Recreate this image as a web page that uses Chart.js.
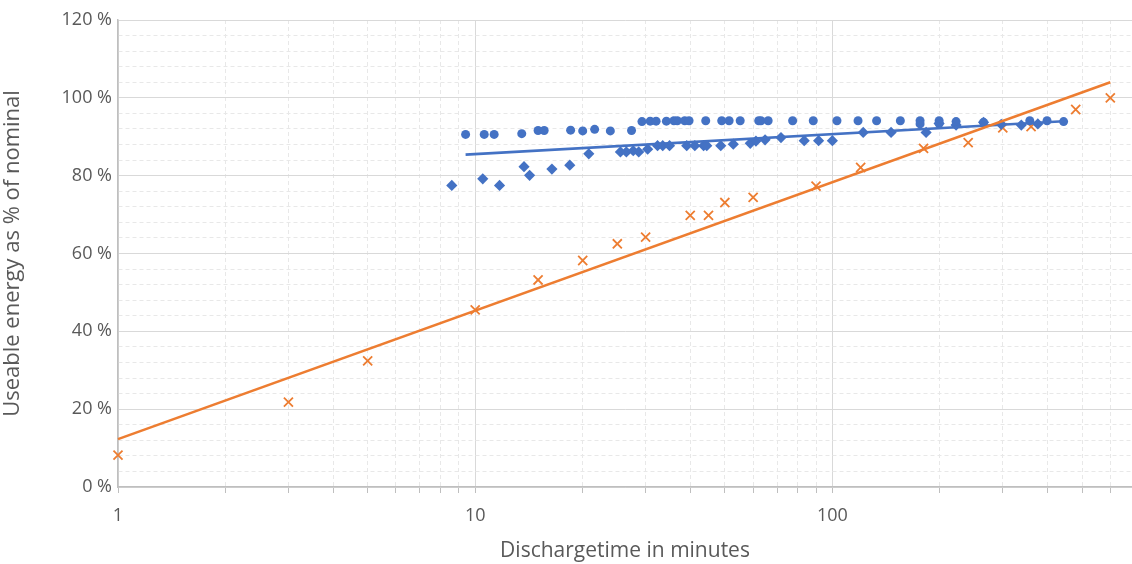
<!DOCTYPE html>
<html>
<head>
<meta charset="utf-8">
<script src="https://cdn.jsdelivr.net/npm/chart.js@4"></script>
<style>
  html, body { margin: 0; padding: 0; background: #fff; overflow: hidden; }
  #wrap { width: 1132px; height: 564px; position: relative; }
</style>
</head>
<body>
<div id="wrap"><canvas id="energyChart"></canvas></div>
<script>
// Discharge time (minutes) vs useable energy (% of nominal)
const circleTimes = [9.4, 10.6, 11.3, 13.5, 15.0, 15.6, 18.5, 20.0, 21.6, 23.9, 27.4, 29.3, 30.9, 32.1, 34.3, 36.0, 36.8, 38.6, 39.7,
  44.2, 49.0, 51.4, 55.2, 62.2, 63.1, 66.1, 77.4, 88.4, 103, 118, 133, 155, 176, 176, 199, 199, 222, 265, 357, 399, 444];
const circleEnergy = [90.6, 90.6, 90.6, 90.8, 91.6, 91.6, 91.7, 91.5, 91.9, 91.5, 91.6, 93.9, 94.0, 94.0, 94.0, 94.1, 94.1, 94.1, 94.1,
  94.1, 94.1, 94.1, 94.1, 94.1, 94.1, 94.1, 94.1, 94.1, 94.1, 94.1, 94.1, 94.1, 94.1, 93.3, 94.1, 93.4, 93.9, 93.7, 94.1, 94.1, 93.9];

const diamondTimes = [8.6, 10.5, 11.7, 13.7, 14.2, 16.4, 18.4, 20.8, 25.5, 26.5, 27.7, 28.7, 30.4, 32.4, 33.5, 35.0, 39.1, 41.2, 43.6,
  44.5, 48.7, 52.8, 58.9, 61.1, 64.8, 71.8, 83.4, 91.5, 100, 122, 146, 183, 199, 222, 265, 297, 338, 376];
const diamondEnergy = [77.5, 79.2, 77.5, 82.3, 80.1, 81.7, 82.7, 85.6, 86.1, 86.1, 86.4, 86.1, 86.8, 87.7, 87.7, 87.7, 87.7, 87.7, 87.7,
  87.7, 87.7, 88.1, 88.3, 88.9, 89.2, 89.8, 89.0, 89.0, 89.0, 91.1, 91.1, 91.1, 93.4, 93.0, 93.7, 93.2, 93.0, 93.3];

const crossTimes = [1, 3, 5, 10, 15, 20, 25, 30, 40, 45, 50, 60, 90, 120, 180, 240, 300, 360, 480, 600];
const crossEnergy = [8.2, 21.8, 32.4, 45.5, 53.2, 58.2, 62.5, 64.2, 69.8, 69.8, 73.1, 74.4, 77.3, 82.1, 87.0, 88.5, 92.3, 92.6, 97.0, 100];

// logarithmic trendlines are straight on a log axis, so two ends are enough
const blueTrendTimes = [9.4, 444];
const blueTrendEnergy = [85.4, 94.0];
const orangeTrendTimes = [1, 600];
const orangeTrendEnergy = [12.3, 104.0];

const xTickValues = [1, 2, 3, 4, 5, 6, 7, 8, 9, 10, 20, 30, 40, 50, 60, 70, 80, 90, 100, 200, 300, 400, 500, 600];
const xLabelValues = [1, 10, 100];

const BLUE = '#4472C4';
const ORANGE = '#ED7D31';
const TEXT = '#595959';

function toPoints(xs, ys) {
  return xs.map((x, i) => ({ x: x, y: ys[i] }));
}

const isMajorX = v => xLabelValues.includes(v);
const isMajorY = v => v % 20 === 0;

const ctx = document.getElementById('energyChart').getContext('2d');

new Chart(ctx, {
  type: 'scatter',
  data: {
    datasets: [
      {
        label: 'trend orange',
        data: toPoints(orangeTrendTimes, orangeTrendEnergy),
        showLine: true,
        borderColor: ORANGE,
        borderWidth: 2.6,
        pointRadius: 0,
        order: 0
      },
      {
        label: 'trend blue',
        data: toPoints(blueTrendTimes, blueTrendEnergy),
        showLine: true,
        borderColor: BLUE,
        borderWidth: 2.6,
        pointRadius: 0,
        order: 1
      },
      {
        label: 'circles',
        data: toPoints(circleTimes, circleEnergy),
        pointStyle: 'circle',
        pointRadius: 4.5,
        backgroundColor: BLUE,
        borderColor: BLUE,
        borderWidth: 0,
        order: 2
      },
      {
        label: 'diamonds',
        data: toPoints(diamondTimes, diamondEnergy),
        pointStyle: 'rectRot',
        pointRadius: 5.6,
        backgroundColor: BLUE,
        borderColor: BLUE,
        borderWidth: 0,
        order: 3
      },
      {
        label: 'crosses',
        data: toPoints(crossTimes, crossEnergy),
        pointStyle: 'crossRot',
        pointRadius: 6.4,
        borderColor: ORANGE,
        backgroundColor: ORANGE,
        borderWidth: 1.8,
        order: 4
      }
    ]
  },
  options: {
    responsive: true,
    maintainAspectRatio: false,
    animation: false,
    clip: false,
    // plot runs off the right edge, so no extra room for markers
    layout: { autoPadding: false, padding: { top: 20, right: 0, bottom: 0, left: 0 } },
    plugins: {
      legend: { display: false },
      tooltip: { enabled: false }
    },
    scales: {
      x: {
        type: 'logarithmic',
        min: 1,
        max: 690,
        afterBuildTicks: axis => {
          axis.ticks = xTickValues.map(v => ({ value: v }));
        },
        afterFit: scale => { scale.height = 77; },
        ticks: {
          autoSkip: false,
          maxRotation: 0,
          padding: 12,
          color: TEXT,
          font: { family: 'Open Sans', size: 18 },
          callback: v => isMajorX(v) ? String(v) : ''
        },
        grid: {
          color: c => (c.tick && isMajorX(c.tick.value)) ? '#d9d9d9' : '#e8e8e8',
          lineWidth: 1,
          tickColor: '#bfbfbf',
          tickLength: 6
        },
        border: {
          color: '#bfbfbf',
          width: 1.5,
          dash: c => (c.tick && !isMajorX(c.tick.value)) ? [4, 3] : []
        },
        title: {
          display: true,
          text: 'Dischargetime in minutes',
          color: TEXT,
          font: { family: 'Open Sans', size: 21 },
          padding: { top: 0, bottom: 0 }
        }
      },
      y: {
        min: 0,
        max: 120,
        afterFit: scale => { scale.width = 118; },
        ticks: {
          stepSize: 4,
          autoSkip: false,
          padding: 6,
          color: TEXT,
          font: { family: 'Open Sans', size: 18 },
          callback: v => isMajorY(v) ? v + ' %' : ''
        },
        grid: {
          color: c => (c.tick && isMajorY(c.tick.value)) ? '#d9d9d9' : '#e8e8e8',
          lineWidth: 1,
          drawTicks: false
        },
        border: {
          color: '#bfbfbf',
          width: 1.5,
          dash: c => (c.tick && !isMajorY(c.tick.value)) ? [4, 3] : []
        },
        title: {
          display: true,
          text: 'Useable energy as % of nominal',
          color: TEXT,
          font: { family: 'Open Sans', size: 22 },
          padding: { top: 0, bottom: 4 }
        }
      }
    }
  }
});
</script>
</body>
</html>
